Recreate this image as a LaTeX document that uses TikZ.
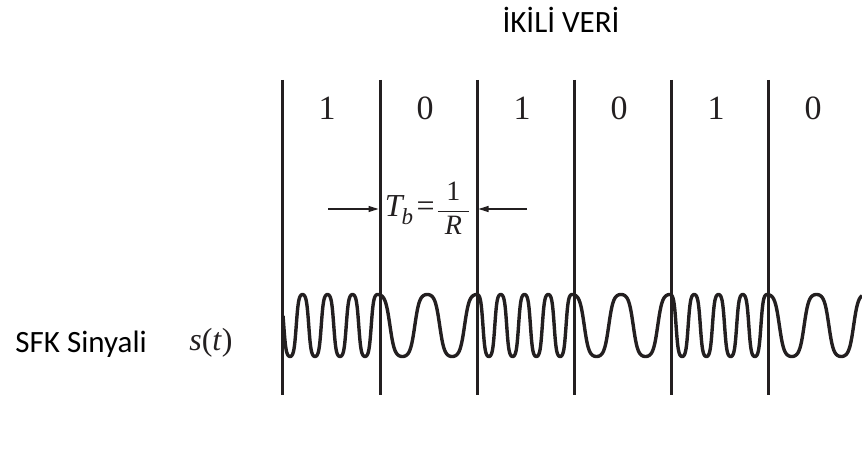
\documentclass[tikz,border=0pt]{standalone}
\usepackage{fontspec}
\setmainfont{Carlito}
\newfontfamily\tms{Liberation Serif}
\usetikzlibrary{arrows.meta}
\definecolor{ink}{HTML}{231F20}
\begin{document}
\begin{tikzpicture}[x=1pt,y=-1pt,
  declare function={fsk(\a)=325.5-31*tanh(1.6*cos(\a))/0.9217;},
  vline/.style={line width=3pt, draw=ink},
  wave/.style={line width=3.4pt, draw=ink, line join=round},
  dimarrow/.style={line width=1.3pt, draw=ink, -{Triangle[length=10pt,width=6pt]}, shorten >=1.5pt},
  bit/.style={font=\tms\fontsize{34}{36}\selectfont, text=ink, anchor=base, inner sep=0pt},
  lab/.style={font=\fontsize{31}{34}\selectfont, text=black, inner sep=0pt},
  mth/.style={font=\tms\fontsize{32}{34}\selectfont, text=ink, inner sep=0pt}]
\useasboundingbox (0,0) rectangle (862,449);
% vertical bit boundaries
\foreach \x [count=\i] in {282,380,477,574,671,768}{
  \coordinate (t\i) at (\x,80);
  \coordinate (b\i) at (\x,395);
  \draw[vline] (t\i) -- (b\i);
}
% bit values
\foreach \x/\v [count=\i] in {327/1,425/0,522/1,619/0,716/1,813/0}{
  \node[bit] (d\i) at (\x,120) {\v};
}
% title
\node[lab, anchor=base] (title) at (561,33) {İKİLİ VERİ};
% signal label
\node[lab, anchor=base east] (sfk) at (147,352) {SFK Sinyali};
\node[mth, anchor=base] (st) at (211,350) {\textit{s}(\textit{t})};
% bit period
\node[mth, anchor=base] (tb) at (427.5,217)
  {$\hbox{\itshape T\kern-1pt}_{\hbox{\fontsize{23}{23}\selectfont\itshape b}}\hbox{\kern3pt=\kern2pt}\displaystyle\frac{\hbox{\fontsize{28}{28}\selectfont 1}}{\hbox{\fontsize{28}{28}\selectfont\kern7pt\itshape R\kern7pt}}$};
\coordinate (al) at (328,209);
\coordinate (ar) at (527,209);
\draw[dimarrow] (al) -- (t2 |- al);
\draw[dimarrow] (ar) -- (t3 |- ar);
% FSK waveform
\draw[wave]
  plot[domain=283:377.5, samples=200] (\x,{fsk(360*((\x-377.5)/25))})
  -- plot[domain=377.5:477, samples=160] (\x,{fsk(360*((\x-377.5)/49.75))})
  -- plot[domain=477:572, samples=200] (\x,{fsk(360*((\x-477)/23.75))})
  -- plot[domain=572:670, samples=160] (\x,{fsk(360*((\x-572)/49))})
  -- plot[domain=670:767, samples=200] (\x,{fsk(360*((\x-670)/24.25))})
  -- plot[domain=767:862, samples=160] (\x,{fsk(360*((\x-767)/49.5))});
\end{tikzpicture}
\end{document}
